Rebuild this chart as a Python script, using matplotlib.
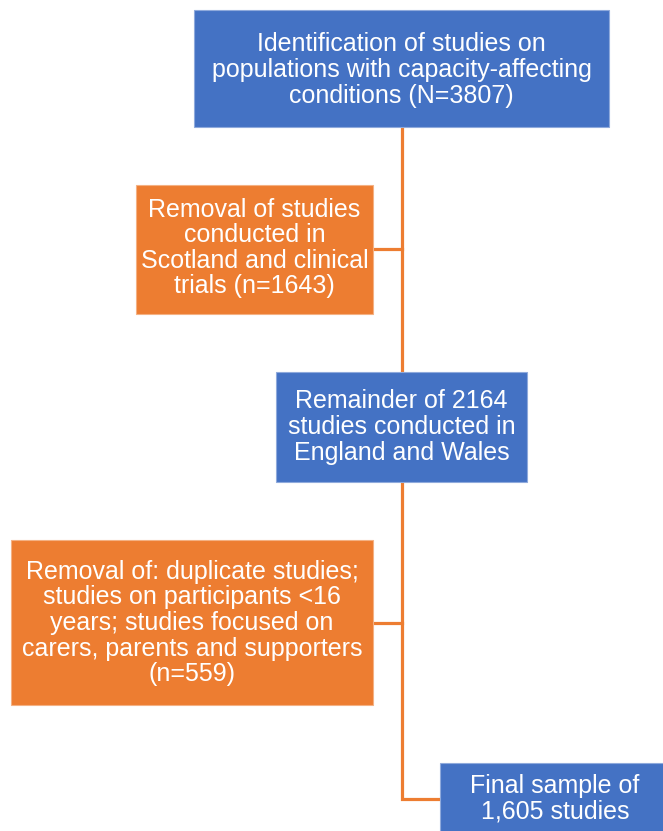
import matplotlib.pyplot as plt
from matplotlib.patches import Rectangle

plt.rcParams['font.family'] = ['Liberation Sans', 'DejaVu Sans']

# flowchart boxes: text, colour
labels = [
    "Identification of studies on\npopulations with capacity-affecting\nconditions (N=3807)",
    "Removal of studies\nconducted in\nScotland and clinical\ntrials (n=1643)",
    "Remainder of 2164\nstudies conducted in\nEngland and Wales",
    "Removal of: duplicate studies;\nstudies on participants <16\nyears; studies focused on\ncarers, parents and supporters\n(n=559)",
    "Final sample of\n1,605 studies",
]
kinds = ['main', 'removed', 'main', 'removed', 'main']

blue = '#4472C4'
orange = '#ED7D31'
colors = {'main': blue, 'removed': orange}

# box layout in pixels: x0, y0, x1, y1
boxes = [
    (194, 10, 609, 127),
    (136, 185, 373, 314),
    (276, 372, 527, 482),
    (11, 540, 373, 705),
    (440, 763, 680, 850),
]
text_pos = [(401.5, 70), (254.5, 248), (401.5, 427), (192, 623), (555, 799)]

W, H = 663, 831
fig = plt.figure(figsize=(W / 100, H / 100), dpi=100)
ax = fig.add_axes([0, 0, 1, 1])
ax.set_xlim(0, W)
ax.set_ylim(H, 0)
ax.axis('off')

lw = 2.3
trunk_x = 402
# connectors
ax.plot([trunk_x, trunk_x], [127, 372], color=orange, lw=lw, zorder=1)
ax.plot([373, trunk_x], [249, 249], color=orange, lw=lw, zorder=1)
ax.plot([trunk_x, trunk_x, 440], [482, 799, 799], color=orange, lw=lw,
        zorder=1, solid_joinstyle='miter')
ax.plot([373, trunk_x], [623, 623], color=orange, lw=lw, zorder=1)

for (x0, y0, x1, y1), kind, txt, (tx, ty) in zip(boxes, kinds, labels, text_pos):
    c = colors[kind]
    edge = '#8FAADC' if kind == 'main' else '#F4B183'
    ax.add_patch(Rectangle((x0, y0), x1 - x0, y1 - y0, facecolor=c,
                           edgecolor=edge, lw=0.8, zorder=2))
    ax.text(tx, ty, txt, ha='center', va='center', color='white',
            fontsize=18, linespacing=1.08, zorder=3)

fig.savefig('out.png', dpi=100)
